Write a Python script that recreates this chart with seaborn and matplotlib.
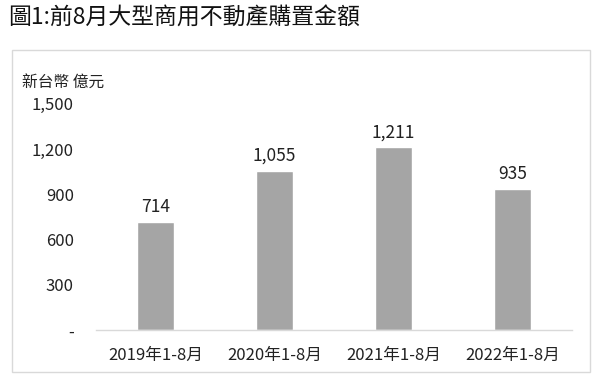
import matplotlib
matplotlib.use("Agg")
import matplotlib.pyplot as plt
import seaborn as sns
import pandas as pd
from matplotlib.patches import Rectangle

periods = ["2019年1-8月", "2020年1-8月", "2021年1-8月", "2022年1-8月"]
amounts = [714, 1055, 1211, 935]
y_ticks = [0, 300, 600, 900, 1200, 1500]
y_tick_labels = ["-", "300", "600", "900", "1,200", "1,500"]

df = pd.DataFrame({"period": periods, "amount": amounts})

sns.set_style("white")
plt.rcParams["font.family"] = ["Noto Sans CJK TC", "DejaVu Sans"]

fig = plt.figure(figsize=(6, 3.82), dpi=100)

# chart frame
fig.patches.append(Rectangle((0.02, 0.026), 0.963, 0.843, transform=fig.transFigure,
                             fill=False, edgecolor="#d9d9d9", linewidth=1))

ax = fig.add_axes([0.16, 0.136, 0.793, 0.592])

sns.barplot(data=df, x="period", y="amount", color="#a5a5a5", width=0.31,
            saturation=1, ax=ax)

for i, v in enumerate(amounts):
    ax.text(i, v + 40, f"{v:,}", ha="center", va="bottom", fontsize=12.5, color="#222222")

ax.set_ylim(0, 1500)
ax.set_yticks(y_ticks)
ax.set_yticklabels(y_tick_labels, fontsize=12, color="#222222")
ax.tick_params(axis="x", labelsize=12, colors="#222222", pad=12, length=0)
ax.tick_params(axis="y", length=0, pad=16)
ax.set_xlabel("")
ax.set_ylabel("")
for s in ["top", "right", "left"]:
    ax.spines[s].set_visible(False)
ax.spines["bottom"].set_color("#d9d9d9")
ax.spines["bottom"].set_linewidth(1)

fig.text(0.037, 0.785, "新台幣 億元", fontsize=11.3, color="#222222", va="center")
fig.text(0.013, 0.952, "圖1:前8月大型商用不動產購置金額", fontsize=16.5, color="#111111",
         va="center")

fig.savefig("out.png", dpi=100)
